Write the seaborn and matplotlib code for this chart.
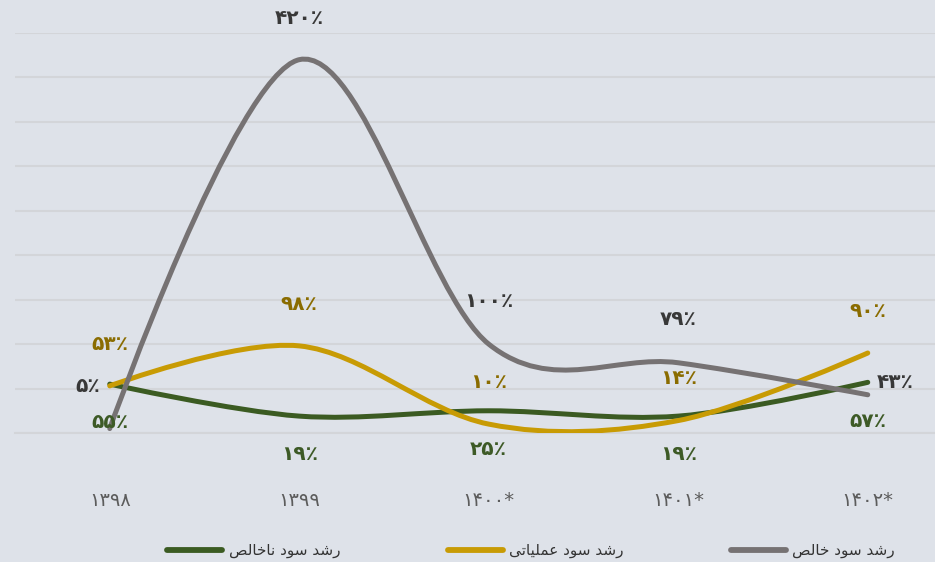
import matplotlib
matplotlib.use("Agg")
import matplotlib.pyplot as plt
import seaborn as sns
from matplotlib.path import Path
from matplotlib.patches import PathPatch
from matplotlib.lines import Line2D

# data (growth, %)
years = ["۱۳۹۸", "۱۳۹۹", "۱۴۰۰*", "۱۴۰۱*", "۱۴۰۲*"]
gross_growth = [55, 19, 25, 19, 57]        # رشد سود ناخالص
operating_growth = [53, 98, 10, 14, 90]    # رشد سود عملیاتی
net_growth = [5, 420, 100, 79, 43]         # رشد سود خالص
names = ["رشد سود ناخالص", "رشد سود عملیاتی", "رشد سود خالص"]

colors = ["#3b5b22", "#c89b04", "#767273"]
label_colors = ["#3d5a26", "#8a6c00", "#383838"]

sns.set_theme(style="white")
plt.rcParams["font.family"] = ["DejaVu Sans"]

# matplotlib has no arabic shaping, so pick presentation forms by hand
FORMS = {
    "ا": ("\uFE8D", "\uFE8E", None, None),
    "ت": ("\uFE95", "\uFE96", "\uFE97", "\uFE98"),
    "خ": ("\uFEA5", "\uFEA6", "\uFEA7", "\uFEA8"),
    "د": ("\uFEA9", "\uFEAA", None, None),
    "ر": ("\uFEAD", "\uFEAE", None, None),
    "س": ("\uFEB1", "\uFEB2", "\uFEB3", "\uFEB4"),
    "ش": ("\uFEB5", "\uFEB6", "\uFEB7", "\uFEB8"),
    "ص": ("\uFEB9", "\uFEBA", "\uFEBB", "\uFEBC"),
    "ع": ("\uFEC9", "\uFECA", "\uFECB", "\uFECC"),
    "ل": ("\uFEDD", "\uFEDE", "\uFEDF", "\uFEE0"),
    "م": ("\uFEE1", "\uFEE2", "\uFEE3", "\uFEE4"),
    "ن": ("\uFEE5", "\uFEE6", "\uFEE7", "\uFEE8"),
    "و": ("\uFEED", "\uFEEE", None, None),
    "ی": ("\uFEEF", "\uFEF0", "\uFEF3", "\uFEF4"),
}


def shape(text):
    out = []
    for i, c in enumerate(text):
        if c not in FORMS:
            out.append(c)
            continue
        prev = text[i - 1] if i > 0 else " "
        nxt = text[i + 1] if i < len(text) - 1 else " "
        join_prev = prev in FORMS and FORMS[prev][2] is not None
        join_next = FORMS[c][2] is not None and nxt in FORMS
        iso, fin, ini, med = FORMS[c]
        if join_prev and join_next:
            out.append(med)
        elif join_prev:
            out.append(fin)
        elif join_next:
            out.append(ini)
        else:
            out.append(iso)
    return "".join(reversed(out))


def fa(n):
    return str(n).translate(str.maketrans("0123456789", "۰۱۲۳۴۵۶۷۸۹")) + "٪"


def spline(xs, ys):
    # catmull-rom style cubic segments
    verts = [(xs[0], ys[0])]
    codes = [Path.MOVETO]
    n = len(xs)
    def tan(i):
        if i == 0 or i == n - 1:
            return 0.0
        return (ys[i + 1] - ys[i - 1]) / 2.0
    for i in range(n - 1):
        c1 = (xs[i] + 1 / 3, ys[i] + tan(i) / 3) if i > 0 else (xs[i], ys[i])
        c2 = (xs[i + 1] - 1 / 3, ys[i + 1] - tan(i + 1) / 3) if i + 1 < n - 1 else (xs[i + 1], ys[i + 1])
        verts += [c1, c2, (xs[i + 1], ys[i + 1])]
        codes += [Path.CURVE4] * 3
    return Path(verts, codes)


bg = "#dee2e9"
fig = plt.figure(figsize=(9.35, 5.62), dpi=100, facecolor=bg)
ax = fig.add_axes([15 / 935, 129 / 562, 920 / 935, 400 / 562])
ax.set_facecolor(bg)

x = list(range(len(years)))
series = [gross_growth, operating_growth, net_growth]
for vals, col in zip(series, colors):
    ax.add_patch(PathPatch(spline(x, vals), fill=False, edgecolor=col,
                           lw=3.6, capstyle="round", joinstyle="round", zorder=3))

ax.set_yticks(range(0, 451, 50))
ax.set_yticklabels([])
ax.yaxis.grid(True, color="#d3d5d9", lw=1.5)
ax.tick_params(axis="y", length=0)
ax.set_xticks(x)
ax.set_xticklabels(years, fontsize=14, color="#5c5c5c")
ax.set_xticks([i - 0.5 for i in range(len(years) + 1)], minor=True)
ax.tick_params(axis="x", which="major", length=0, pad=42)
ax.tick_params(axis="x", which="minor", length=7, width=1.5, color="#d3d5d9")
ax.set_xlim(-0.5, -0.5 + 920 / 189.5)
ax.set_ylim(0, 450)
sns.despine(ax=ax, left=True, top=True, right=True)
ax.spines["bottom"].set_color("#d3d5d9")
ax.spines["bottom"].set_linewidth(1.5)

# value labels: offsets in points
offsets = [
    [(0, -28)] * 5,
    [(0, 30)] * 5,
    [(-16, 30), (0, 30), (0, 31), (0, 31), (20, 9)],
]
for vals, lc, offs in zip(series, label_colors, offsets):
    for xi, v, off in zip(x, vals, offs):
        ax.annotate(fa(v), (xi, v), xytext=off, textcoords="offset points",
                    ha="center", va="center", fontsize=14.5, fontweight="bold",
                    color=lc, zorder=4)

handles = [Line2D([], [], color=c, lw=4.2, solid_capstyle="round") for c in colors]
fig.legend(handles, [shape(n) for n in names], loc="lower center",
           bbox_to_anchor=(0.568, -0.018), ncol=3, frameon=False, fontsize=11,
           handlelength=3.6, handletextpad=0.4, columnspacing=7.05,
           labelcolor="#333333")

fig.savefig("out.png", dpi=100, facecolor=bg)
